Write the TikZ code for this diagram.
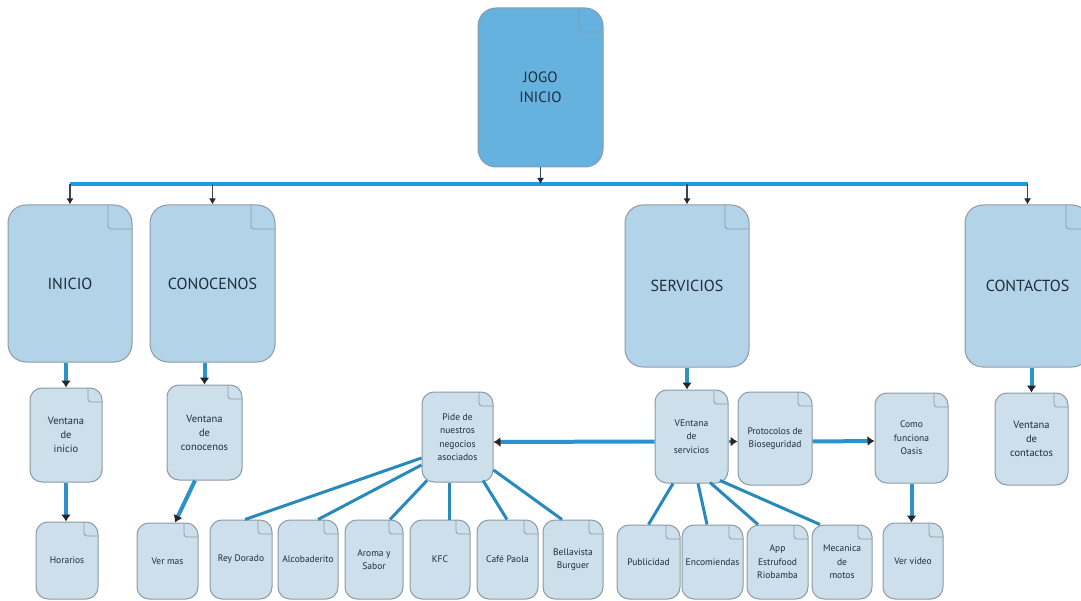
\documentclass[tikz,border=0pt]{standalone}
\usepackage{fontspec}
\setmainfont{PT Sans}
\usetikzlibrary{arrows.meta}
\definecolor{bigfill}{HTML}{B3D3E8}
\definecolor{topfill}{HTML}{65B2DF}
\definecolor{smallfill}{HTML}{CCDFEA}
\definecolor{boxline}{HTML}{8C9BA6}
\definecolor{txt}{HTML}{1F2C3C}
\definecolor{busblue}{HTML}{1E9BE0}
\definecolor{linkblue}{HTML}{2A93CC}
\definecolor{plainblue}{HTML}{2889BC}
\definecolor{dropcol}{HTML}{2B4A5E}
\tikzset{
  foldmark/.style={path picture={\draw[boxline, line width=0.8pt, rounded corners=3pt]
      ([xshift=-#1]path picture bounding box.north east) --
      ([xshift=-#1,yshift=-#1]path picture bounding box.north east) --
      ([yshift=-#1]path picture bounding box.north east);}},
  bigbox/.style={draw=boxline, fill=bigfill, line width=1pt, rounded corners=18pt,
      inner sep=0pt, text=txt, align=center, font=\fontsize{16}{18}\selectfont, foldmark=24pt},
  topbox/.style={bigbox, fill=topfill, font=\fontsize{15}{20}\selectfont},
  smallbox/.style={draw=boxline, fill=smallfill, line width=1pt, rounded corners=12pt,
      inner sep=0pt, text=txt, align=center, font=\fontsize{9.5}{13.5}\selectfont, foldmark=14pt},
  midbox/.style={smallbox, font=\fontsize{10.5}{14}\selectfont},
  tip/.style={-{Latex[length=6pt,width=7pt,color=black!85]}},
  bigtip/.style={-{Latex[length=7pt,width=10pt,color=black!85]}},
  bus/.style={draw=busblue, line width=4pt},
  drop/.style={draw=dropcol, line width=1.3pt, tip},
  thick link/.style={draw=linkblue, line width=4pt, bigtip},
  plain link/.style={draw=plainblue, line width=3pt},
}
\begin{document}
\begin{tikzpicture}[x=1pt,y=-1pt]
\useasboundingbox (0,0) rectangle (1081,601);
\clip (0,0) rectangle (1081,601);
\fill[white] (0,0) rectangle (1081,601);

% top level
\node[topbox, minimum width=125pt, minimum height=159pt] (jogo) at (540.5,87.5) {JOGO\\INICIO};

% main boxes
\node[bigbox, minimum width=124pt, minimum height=157pt] (inicio) at (70,283.5) {INICIO};
\node[bigbox, minimum width=125pt, minimum height=157pt] (cono) at (212.5,283.5) {CONOCENOS};
\node[bigbox, minimum width=124pt, minimum height=162pt] (serv) at (687,286) {SERVICIOS};
\node[bigbox, minimum width=125pt, minimum height=162pt] (cont) at (1027.5,286) {CONTACTOS};

% second level
\node[midbox, minimum width=72pt, minimum height=94pt] (vini) at (66,435) {Ventana\\de\\inicio};
\node[midbox, minimum width=75pt, minimum height=95pt] (vcono) at (204.5,432.5) {Ventana\\de\\conocenos};
\node[smallbox, minimum width=71pt, minimum height=90pt] (pide) at (457.5,437) {Pide de\\nuestros\\negocios\\asociados};
\node[smallbox, minimum width=73pt, minimum height=93pt] (vserv) at (691.5,436.5) {VEntana\\de\\servicios};
\node[smallbox, minimum width=74pt, minimum height=93pt] (proto) at (775,438.5) {Protocolos de\\Bioseguridad};
\node[smallbox, minimum width=73pt, minimum height=90pt] (como) at (911.5,438) {Como\\funciona\\Oasis};
\node[midbox, minimum width=73pt, minimum height=92pt] (vcont) at (1031.5,439) {Ventana\\de\\contactos};

% third level
\node[smallbox, minimum width=62pt, minimum height=77pt] (horarios) at (67,560.5) {Horarios};
\node[smallbox, minimum width=61pt, minimum height=76pt] (vermas) at (167.5,561) {Ver mas};
\node[smallbox, minimum width=62pt, minimum height=79pt] (rey) at (241,559.5) {Rey Dorado};
\node[smallbox, minimum width=60pt, minimum height=79pt] (alco) at (308,559.5) {Alcobaderito};
\node[smallbox, minimum width=58pt, minimum height=79pt] (aroma) at (374,559.5) {Aroma y\\Sabor};
\node[smallbox, minimum width=60pt, minimum height=79pt] (kfc) at (440,559.5) {KFC};
\node[smallbox, minimum width=61pt, minimum height=79pt] (cafe) at (507.5,559.5) {Café Paola};
\node[smallbox, minimum width=60pt, minimum height=79pt] (bella) at (573,559.5) {Bellavista\\Burguer};
\node[smallbox, minimum width=63pt, minimum height=74pt] (publi) at (648.5,562) {Publicidad};
\node[smallbox, minimum width=61pt, minimum height=74pt] (enco) at (712.5,562) {Encomiendas};
\node[smallbox, minimum width=61pt, minimum height=74pt] (app) at (777.5,562) {App\\Estrufood\\Riobamba};
\node[smallbox, minimum width=60pt, minimum height=74pt] (meca) at (842,562) {Mecanica\\de\\motos};
\node[smallbox, minimum width=60pt, minimum height=76pt] (vervideo) at (913,561) {Ver video};

% bus
\coordinate (busL) at (70,184);
\coordinate (busR) at (1027.5,184);
\draw[bus] (busL) -- (busR);
\draw[drop] (jogo.south) -- (jogo.south |- busL);
\draw[drop] (inicio.north |- busL) -- (inicio.north);
\draw[drop] (cono.north |- busL) -- (cono.north);
\draw[drop] (serv.north |- busL) -- (serv.north);
\draw[drop] (cont.north |- busL) -- (cont.north);

% thick arrows
\draw[thick link] (vini.north |- inicio.south) -- (vini.north);
\draw[thick link] (vini.south) -- (horarios.north -| vini.south);
\draw[thick link] (vcono.north |- cono.south) -- (vcono.north);
\draw[thick link] ([xshift=-9.5pt]vcono.south) -- ([xshift=7.5pt]vermas.north);
\draw[thick link] (serv.south) -- (serv.south |- vserv.north);
\draw[thick link] (vcont.north |- cont.south) -- (vcont.north);
\draw[thick link] ([shift={(0,5)}]vserv.west) -- ([shift={(0,5)}]pide.east);
\draw[thick link, line width=2.5pt] ([shift={(0,5)}]vserv.east) -- ([shift={(0,3)}]proto.west);
\draw[thick link] ([shift={(0,3)}]proto.east) -- ([shift={(0,3)}]como.west);
\draw[thick link] (como.south) -- (como.south |- vervideo.north);

% links from pide
\draw[plain link] ([shift={(0,21)}]pide.west) -- ([shift={(4,0)}]rey.north);
\draw[plain link] ([shift={(0,28)}]pide.west) -- ([shift={(10,0)}]alco.north);
\draw[plain link] ([shift={(-30.5,-2)}]pide.south) -- ([shift={(16,0)}]aroma.north);
\draw[plain link] ([shift={(-8.5,0)}]pide.south) -- ([shift={(9,0)}]kfc.north);
\draw[plain link] ([shift={(25.5,-2)}]pide.south) -- ([shift={(-0.5,0)}]cafe.north);
\draw[plain link] ([shift={(0,33)}]pide.east) -- ([shift={(-11,0)}]bella.north);

% links from vserv
\draw[plain link] ([shift={(-18.5,0)}]vserv.south) -- (publi.north);
\draw[plain link] ([shift={(6.5,0)}]vserv.south) -- ([shift={(-5.5,0)}]enco.north);
\draw[plain link] ([shift={(18.5,-1)}]vserv.south) -- ([shift={(-19.5,0)}]app.north);
\draw[plain link] ([shift={(28.5,-3)}]vserv.south) -- ([shift={(-22,0)}]meca.north);
\end{tikzpicture}
\end{document}
